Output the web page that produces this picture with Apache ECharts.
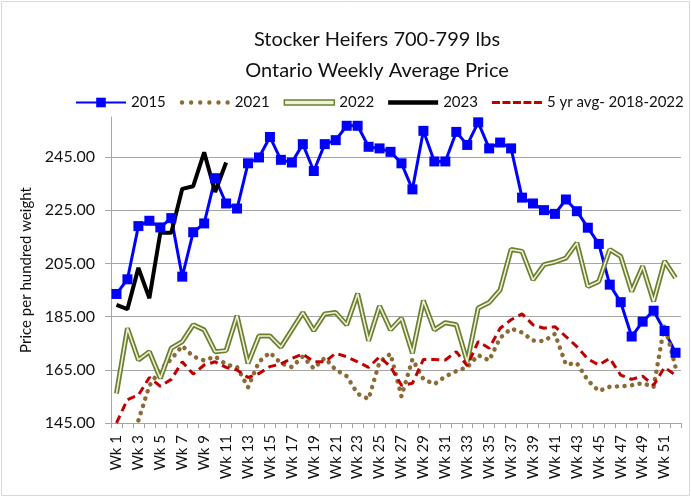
<!DOCTYPE html>
<html>
<head>
<meta charset="utf-8">
<script src="https://cdn.jsdelivr.net/npm/echarts@6/dist/echarts.min.js"></script>
<style>
	html, body { margin: 0; padding: 0; background: #fff; }
	#main { width: 691px; height: 497px; }
</style>
</head>
<body>
<div id="main"></div>
<script>
var weeks = ['Wk 1','Wk 2','Wk 3','Wk 4','Wk 5','Wk 6','Wk 7','Wk 8','Wk 9','Wk 10',
	'Wk 11','Wk 12','Wk 13','Wk 14','Wk 15','Wk 16','Wk 17','Wk 18','Wk 19','Wk 20',
	'Wk 21','Wk 22','Wk 23','Wk 24','Wk 25','Wk 26','Wk 27','Wk 28','Wk 29','Wk 30',
	'Wk 31','Wk 32','Wk 33','Wk 34','Wk 35','Wk 36','Wk 37','Wk 38','Wk 39','Wk 40',
	'Wk 41','Wk 42','Wk 43','Wk 44','Wk 45','Wk 46','Wk 47','Wk 48','Wk 49','Wk 50',
	'Wk 51','Wk 52'];

var y2015 = [193.5, 199, 219, 221, 218.5, 222, 200, 216.7, 220, 237,
	227.5, 225.6, 242.6, 244.8, 252.5, 243.9, 242.9, 249.8, 239.7, 249.8,
	251.3, 256.7, 256.7, 248.8, 248.2, 246.9, 242.6, 232.8, 254.8, 243.3,
	243.3, 254.4, 249.5, 258, 248.2, 250.4, 248.2, 229.7, 227.5, 225,
	223.6, 229, 224.6, 218.4, 212.3, 197, 190.4, 177.5, 183.1, 187.2,
	179.6, 171.4];

var y2021 = [null, null, 146, 159, 165, 169, 174, 170, 168.5, 170,
	167, 166, 158.4, 168, 171.5, 167.4, 166, 170, 165.5, 169.5,
	165, 162.6, 156, 154, 168, 171, 155, 169, 161.5, 159.6,
	162.5, 164.5, 166, 170.5, 168.5, 177, 180.5, 179, 176, 175.8,
	178.5, 167, 167.5, 161, 157, 158.6, 158.8, 159.2, 160, 158.5,
	182, 166];

var y2022 = [156.1, 180.6, 168.7, 171.8, 161.8, 173.1, 175.6, 181.9, 180, 171.8,
	172.2, 185.3, 167.4, 177.7, 177.7, 173.5, 180, 186.5, 179.7, 186,
	186.5, 181.9, 193.6, 175.9, 189, 180, 184.4, 171.2, 191, 180,
	182.7, 181.9, 168, 188.2, 190.3, 195, 210.2, 209.5, 198.8, 204.5,
	205.5, 207, 212.7, 196.3, 198.2, 210.2, 207.6, 194.4, 203.9, 190.7,
	205.8, 199.5];

var y2023 = [189.4, 187.8, 203.3, 191.9, 216.5, 216.5, 233, 234, 246.7, 231.8, 242.9];

var avg5 = [145, 153.8, 155.5, 162.1, 158.8, 161.4, 168, 163.4, 166.8, 168,
	165.9, 164.9, 162.1, 163.6, 166.2, 167.2, 169.3, 170.9, 168, 168,
	171.2, 169.9, 168, 165.9, 169.9, 166.1, 159.2, 159.9, 168.9, 168.9,
	168.7, 171.8, 166.5, 175.6, 173.1, 180.6, 183.8, 186, 181.9, 180.6,
	181.2, 177.5, 173.7, 169.1, 166.8, 169.3, 163, 161.4, 162.6, 159.2,
	165.9, 163];

var chartDom = document.getElementById('main');
var myChart = echarts.init(chartDom);
var font = 'Lato, "DejaVu Sans", sans-serif';

var blue = '#0000ff', brown = '#8c6a35', olive = '#6b7f2e', oliveIn = '#eef2d8', red = '#c00000';

// legend icons, drawn as paths
var dotsIcon = 'path://';
for (var i = 0; i < 6; i++) {
	var cx = 2.2 + i * 9.12;
	dotsIcon += 'M' + (cx - 2.2) + ',2.2 a2.2,2.2 0 1,0 4.4,0 a2.2,2.2 0 1,0 -4.4,0 ';
}
var dashIcon = 'path://';
for (var j = 0; j < 5; j++) {
	var dx = j * 10.5;
	dashIcon += 'M' + dx + ',0 h8 v3 h-8 Z ';
}
var solidIcon = 'path://M0,0 H50 V4.5 H0 Z';
var doubleIcon = 'path://M0,0 H50 V5 H0 Z';

var option = {
	animation: false,
	textStyle: { fontFamily: font },
	graphic: [
		{
			type: 'rect',
			shape: { x: 1.5, y: 1.5, width: 688, height: 494 },
			style: { fill: 'none', stroke: '#d9d9d9', lineWidth: 1 },
			silent: true
		},
		{
			type: 'text',
			x: 377, y: 24,
			style: {
				text: 'Stocker Heifers 700-799 lbs\nOntario Weekly Average Price',
				textAlign: 'center',
				font: '20px ' + font,
				lineHeight: 31,
				fill: '#111'
			}
		}
	],
	legend: {
		left: 75,
		top: 95,
		padding: 0,
		itemWidth: 50,
		itemHeight: 12,
		itemGap: 14,
		textStyle: { fontSize: 15, color: '#111' },
		data: [
			{ name: '2015' },
			{ name: '2021', icon: dotsIcon, itemStyle: { color: brown } },
			{ name: '2022', icon: doubleIcon, itemStyle: { color: oliveIn, borderColor: olive, borderWidth: 1.5 } },
			{ name: '2023', icon: solidIcon, itemStyle: { color: '#000' } },
			{ name: '5 yr avg- 2018-2022', icon: dashIcon, itemStyle: { color: red } }
		]
	},
	grid: { left: 111, right: 10, top: 117, bottom: 74 },
	xAxis: {
		type: 'category',
		data: weeks,
		boundaryGap: true,
		axisLine: { lineStyle: { color: '#a6a6a6', width: 1 } },
		axisTick: { show: true, interval: 0, length: 5, lineStyle: { color: '#a6a6a6' } },
		axisLabel: { interval: 1, rotate: 90, fontSize: 15, color: '#111', margin: 12 }
	},
	yAxis: {
		type: 'value',
		min: 145,
		max: 260,
		interval: 20,
		name: 'Price per hundred weight',
		nameLocation: 'middle',
		nameRotate: 90,
		nameGap: 69,
		nameTextStyle: { fontSize: 15, color: '#111' },
		axisLine: { show: true, lineStyle: { color: '#a6a6a6' } },
		axisTick: { show: true, length: 6, lineStyle: { color: '#a6a6a6' } },
		axisLabel: {
			fontSize: 16, color: '#111', margin: 16, showMaxLabel: false,
			formatter: function(v) { return v.toFixed(2); }
		},
		splitLine: { showMaxLine: false, lineStyle: { color: '#a6a6a6', width: 1 } }
	},
	series: [
		{
			name: '2015', type: 'line', data: y2015,
			symbol: 'rect', symbolSize: 10, showAllSymbol: true,
			itemStyle: { color: blue },
			lineStyle: { color: blue, width: 3 }
		},
		{
			name: '2021', type: 'line', data: y2021,
			symbol: 'none',
			itemStyle: { color: brown },
			lineStyle: { color: brown, width: 4.5, type: [0.1, 7.5], cap: 'round' }
		},
		{
			name: '2022', type: 'line', data: y2022,
			symbol: 'none',
			itemStyle: { color: olive },
			lineStyle: { color: olive, width: 5 }
		},
		{
			name: '2022', type: 'line', data: y2022,
			symbol: 'none',
			itemStyle: { color: oliveIn },
			lineStyle: { color: oliveIn, width: 1.6 }
		},
		{
			name: '2023', type: 'line', data: y2023,
			symbol: 'none',
			itemStyle: { color: '#000' },
			lineStyle: { color: '#000', width: 4 }
		},
		{
			name: '5 yr avg- 2018-2022', type: 'line', data: avg5,
			symbol: 'none',
			itemStyle: { color: red },
			lineStyle: { color: red, width: 3, type: [8, 5] }
		}
	]
};

myChart.setOption(option);
</script>
</body>
</html>
